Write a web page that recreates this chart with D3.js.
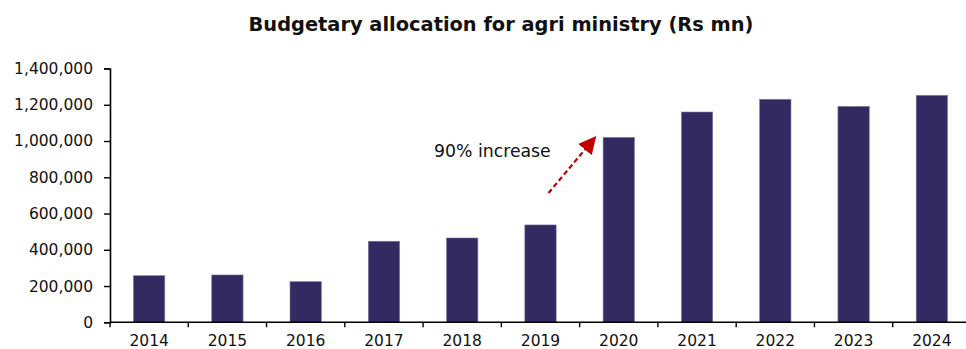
<!DOCTYPE html>
<html>
<head>
<meta charset="utf-8">
<script src="https://cdn.jsdelivr.net/npm/d3@7"></script>
<style>
  html, body { margin: 0; padding: 0; background: #ffffff; }
  svg { display: block; }
  text { font-family: "DejaVu Sans", Verdana, sans-serif; fill: #111; }
</style>
</head>
<body>
<svg id="chart" width="966" height="349"></svg>
<script>
// Budgetary allocation for the agriculture ministry, Rs mn
const years = ["2014", "2015", "2016", "2017", "2018", "2019", "2020", "2021", "2022", "2023", "2024"];
const allocation = [257000, 261000, 224000, 447000, 465000, 537000, 1020000, 1160000, 1230000, 1191000, 1252000];
const yTicks = [0, 200000, 400000, 600000, 800000, 1000000, 1200000, 1400000];
const titleText = "Budgetary allocation for agri ministry (Rs mn)";
const noteText = "90% increase";

const W = 966, H = 349;
const margin = { top: 68.5, left: 110, right: -5, bottom: 26.7 };
const innerW = W - margin.left - margin.right;
const innerH = H - margin.top - margin.bottom;

const svg = d3.select("#chart");
const g = svg.append("g").attr("transform", `translate(${margin.left},${margin.top})`);

const x = d3.scaleBand().domain(years).range([0, innerW]).paddingInner(0.6).paddingOuter(0.3);
const y = d3.scaleLinear().domain([0, 1400000]).range([innerH, 0]);

// title
svg.append("text")
  .attr("x", 501).attr("y", 31)
  .attr("text-anchor", "middle")
  .style("font-size", "19.4px").style("font-weight", "bold")
  .text(titleText);

// bars
g.selectAll("rect.bar")
  .data(years.map((yr, i) => ({ yr, v: allocation[i] })))
  .join("rect")
  .attr("class", "bar")
  .attr("x", d => x(d.yr))
  .attr("width", x.bandwidth())
  .attr("y", d => y(d.v))
  .attr("height", d => innerH - y(d.v))
  .attr("fill", "#322a61")
  .attr("stroke", "#7d76a6").attr("stroke-width", 0.6);

// y axis
const fmt = d3.format(",");
const yAxis = g.append("g")
  .call(d3.axisLeft(y).tickValues(yTicks).tickFormat(fmt).tickSize(6).tickPadding(11));
yAxis.select(".domain").attr("stroke", "#000").attr("stroke-width", 1.6);
yAxis.selectAll(".tick line").attr("stroke", "#000").attr("stroke-width", 1.4);
yAxis.selectAll(".tick text").style("font-size", "15.5px").attr("fill", "#111")
  .style("font-family", "DejaVu Sans, Verdana, sans-serif");

// x axis: ticks sit between categories
const step = x.step();
const xAxisG = g.append("g").attr("transform", `translate(0,${innerH})`);
xAxisG.append("line")
  .attr("x1", 0).attr("x2", innerW)
  .attr("stroke", "#000").attr("stroke-width", 1.6);
xAxisG.selectAll("line.tk")
  .data(d3.range(years.length + 1))
  .join("line")
  .attr("class", "tk")
  .attr("x1", i => i * step).attr("x2", i => i * step)
  .attr("y1", 0).attr("y2", 5)
  .attr("stroke", "#000").attr("stroke-width", 1.4);
xAxisG.selectAll("text")
  .data(years)
  .join("text")
  .attr("x", d => x(d) + x.bandwidth() / 2)
  .attr("y", 24)
  .attr("text-anchor", "middle")
  .style("font-size", "15.5px")
  .text(d => d);

// annotation: jump from 2019 to 2020
const defs = svg.append("defs");
defs.append("marker")
  .attr("id", "arrowHead")
  .attr("viewBox", "0 0 10 10")
  .attr("refX", 9).attr("refY", 5)
  .attr("markerWidth", 8).attr("markerHeight", 8)
  .attr("markerUnits", "strokeWidth")
  .attr("orient", "auto")
  .append("path").attr("d", "M0,0 L10,5 L0,10 Z").attr("fill", "#c00000");

const i19 = years.indexOf("2019"), i20 = years.indexOf("2020");
const tailX = x(years[i19]) + x.bandwidth() / 2 + 8;
const tailY = y(713000);
const tipX = x(years[i20]) - 8;
const tipY = y(allocation[i20]);
g.append("line")
  .attr("x1", tailX).attr("y1", tailY)
  .attr("x2", tipX).attr("y2", tipY)
  .attr("stroke", "#c00000").attr("stroke-width", 2.2)
  .attr("stroke-dasharray", "5,3")
  .attr("marker-end", "url(#arrowHead)");

g.append("text")
  .attr("x", 434 - margin.left).attr("y", 157 - margin.top)
  .style("font-size", "17.3px")
  .text(noteText);
</script>
</body>
</html>
